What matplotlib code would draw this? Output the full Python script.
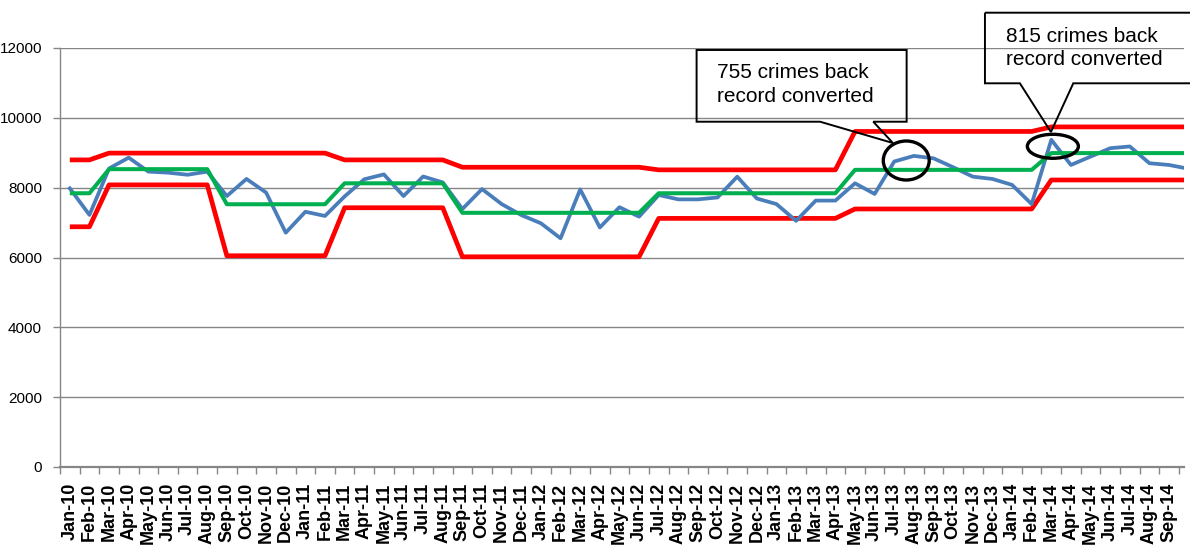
import matplotlib
matplotlib.use('Agg')
import matplotlib.pyplot as plt
from matplotlib.patches import Ellipse, Polygon
from matplotlib.ticker import FixedLocator, MultipleLocator

# months Jan-10 .. Oct-14 (last one is cut off by the right edge)
mon = ['Jan', 'Feb', 'Mar', 'Apr', 'May', 'Jun', 'Jul', 'Aug', 'Sep', 'Oct', 'Nov', 'Dec']
months = ['%s-%d' % (mon[i % 12], 10 + i // 12) for i in range(58)]

crimes = [7980, 7220, 8550, 8860, 8460, 8430, 8370, 8460, 7760, 8250,
          7860, 6710, 7310, 7190, 7750, 8240, 8380, 7760, 8320, 8150,
          7390, 7960, 7530, 7215, 6980, 6550, 7950, 6860, 7440, 7170,
          7790, 7665, 7665, 7720, 8315, 7690, 7530, 7050, 7630, 7630,
          8125, 7820, 8750, 8910, 8840, 8585, 8315, 8250, 8080, 7530,
          9370, 8650, 8890, 9130, 9180, 8700, 8650, 8540]

mean = [7840] * 2 + [8530] * 6 + [7525] * 6 + [8125] * 6 + [7280] * 10 + \
       [7840] * 10 + [8510] * 10 + [8990] * 8

ucl = [8795] * 2 + [8990] * 12 + [8795] * 6 + [8585] * 10 + \
      [8510] * 10 + [9610] * 10 + [9740] * 8

lcl = [6880] * 2 + [8080] * 6 + [6050] * 6 + [7425] * 6 + [6020] * 10 + \
      [7120] * 10 + [7390] * 10 + [8220] * 8

notes = ['755 crimes back\nrecord converted', '815 crimes back\nrecord converted']

W, H = 1190, 546
fig = plt.figure(figsize=(W / 100, H / 100), dpi=100)
ax = fig.add_axes([60 / W, 79 / H, 1124 / W, 419 / H])

x = list(range(len(months)))
ax.plot(x, ucl, color='#FF0000', lw=3.4, zorder=3, solid_capstyle='butt')
ax.plot(x, lcl, color='#FF0000', lw=3.4, zorder=3, solid_capstyle='butt')
ax.plot(x, crimes, color='#4A7EBB', lw=2.7, zorder=4)
ax.plot(x, mean, color='#00B050', lw=2.9, zorder=5, solid_capstyle='butt')

ax.set_xlim(-0.5, 56.76)
ax.set_ylim(0, 12000)
ax.yaxis.set_major_locator(MultipleLocator(2000))
ax.grid(axis='y', color='#868686', lw=1)
ax.set_axisbelow(True)

for s in ['top', 'right']:
    ax.spines[s].set_visible(False)
ax.spines['left'].set_color('#868686')
ax.spines['left'].set_linewidth(1)
ax.spines['bottom'].set_color('#868686')
ax.spines['bottom'].set_linewidth(1.6)

ax.set_xticks(x[:57])
ax.set_xticklabels(months[:57], rotation=90, fontsize=13, fontweight='bold',
                   family=['Liberation Sans', 'DejaVu Sans'])
ax.xaxis.set_minor_locator(FixedLocator([i - 0.5 for i in range(58)]))
ax.tick_params(axis='x', which='major', length=0, pad=11.5)
ax.tick_params(axis='x', which='minor', length=5, color='#868686', width=1)
ax.tick_params(axis='y', length=5, color='#868686', width=1, pad=8)
for t in ax.get_yticklabels():
    t.set_fontsize(11)
    t.set_family(['Liberation Sans', 'DejaVu Sans'])

# callouts (no fill, like the original)
box1 = [(31.93, 11943), (42.63, 11943), (42.63, 9889), (40.93, 9889),
        (41.93, 9279), (38.22, 9889), (31.93, 9889)]
box2 = [(46.62, 13011), (57.3, 13011), (57.3, 10989), (51.12, 10989),
        (49.98, 9594), (48.40, 10989), (46.62, 10989)]
for b in (box1, box2):
    ax.add_patch(Polygon(b, closed=True, fill=False, ec='black', lw=1.4,
                         clip_on=False, zorder=6))
ax.text(32.95, 10955, notes[0], fontsize=15, family='Liberation Sans',
        va='center', ha='left', linespacing=1.3, zorder=7)
ax.text(47.7, 12000, notes[1], fontsize=15, family='Liberation Sans',
        va='center', ha='left', linespacing=1.3, zorder=7, clip_on=False)

ax.add_patch(Ellipse((42.61, 8778), 2.34, 1117, fill=False, ec='black',
                     lw=2.4, zorder=6))
ax.add_patch(Ellipse((50.08, 9185), 2.6, 687, fill=False, ec='black',
                     lw=2.4, zorder=6))

fig.savefig('out.png', dpi=100)
